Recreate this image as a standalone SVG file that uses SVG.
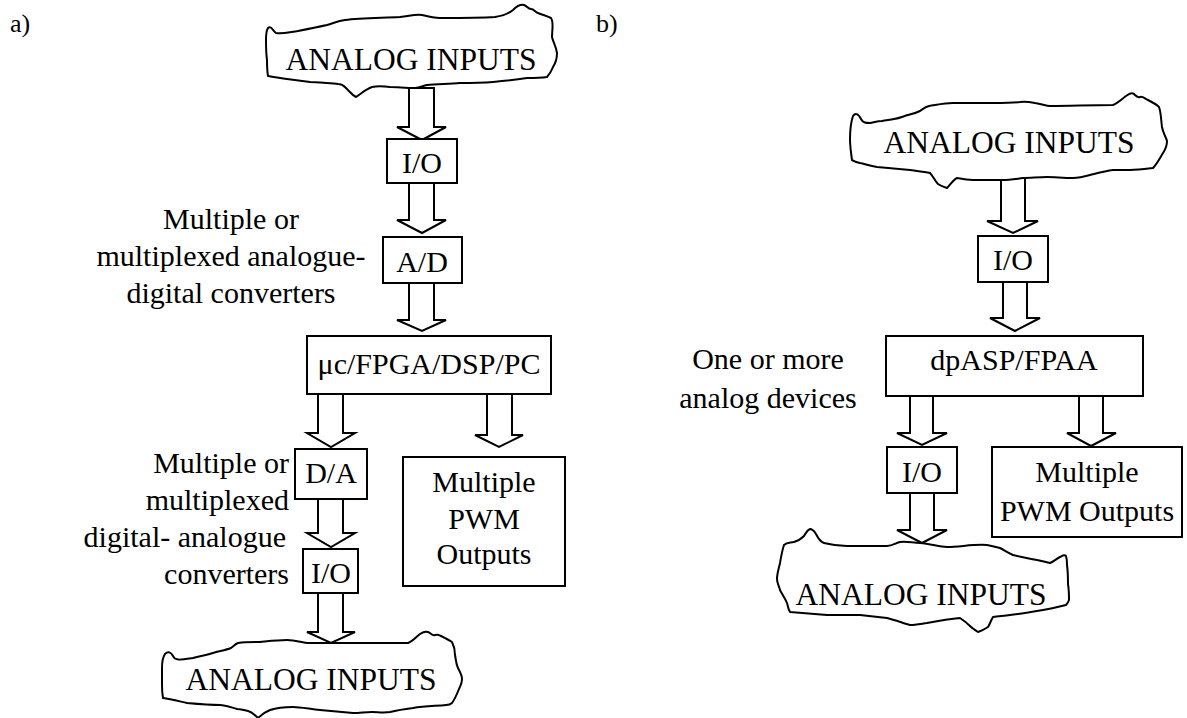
<svg xmlns="http://www.w3.org/2000/svg" width="1187" height="718" viewBox="0 0 1187 718">
<style>
text{font-family:"Liberation Serif","Times New Roman",serif;font-size:30px;fill:#000}
.c{text-anchor:middle}
.e{text-anchor:end}
.big{font-size:31.5px}
.box{fill:#fff;stroke:#000;stroke-width:2}
.wave{fill:#fff;stroke:#000;stroke-width:2;stroke-linejoin:round}
.arr{fill:#fff;stroke:#000;stroke-width:2;stroke-linejoin:miter}
</style>
<rect width="1187" height="718" fill="#fff"/>
<text x="10" y="32" style="font-size:26px">a)</text>
<text x="596" y="32" style="font-size:26px">b)</text>

<g id="connectors">
<polygon class="arr" points="409,88 434,88 434,127 446,127 422,140 397,127 409,127"/>
<polygon class="arr" points="409,183 434,183 434,220 446,220 422,233 397,220 409,220"/>
<polygon class="arr" points="409,283 434,283 434,320 446,320 422,331 397,320 409,320"/>
<polygon class="arr" points="318,394 343,394 343,433 355,433 331,447 307,433 318,433"/>
<polygon class="arr" points="318,499 343,499 343,533 355,533 331,547 307,533 318,533"/>
<polygon class="arr" points="318,593 343,593 343,632 355,632 331,643 307,632 318,632"/>
<polygon class="arr" points="487,394 512,394 512,435 523,435 499,447 475,435 487,435"/>
<polygon class="arr" points="1001,178 1025,178 1025,221 1038,221 1013,233 987,221 1001,221"/>
<polygon class="arr" points="1003,282 1027,282 1027,318 1040,318 1015,331 990,318 1003,318"/>
<polygon class="arr" points="910,396 933,396 933,433 947,433 922,445 897,433 910,433"/>
<polygon class="arr" points="910,493 934,493 934,530 947,530 922,543 897,530 910,530"/>
<polygon class="arr" points="1079,396 1103,396 1103,433 1116,433 1091,446 1067,433 1079,433"/>
</g>

<g id="a-top-inputs">
<path class="wave" d="M268,28 C271,25 273,31 276,33 C283,34 290,32 298,31 C308,29 318,27 327,25 C334,23 338,21 345,20 C360,18 380,18 400,17 C410,16 415,14 422,15 C430,17 435,18 440,18 C460,18 480,18 495,17 C503,16 508,14 513,10 C517,6 520,4 524,5 C527,6 528,9 531,9 C534,9 535,12 538,13 C543,15 547,16 551,18 C554,22 552,30 552,37 C553,42 556,46 557,53 C557,60 555,64 553,67 C551,72 549,75 547,77 C540,78 533,78 527,78 C515,80 505,81 493,82 C480,83 470,83 460,83 C448,84 437,84 427,85 C422,86 420,88 415,88 C405,88 398,87 390,87 C382,86 377,86 372,87 C366,89 362,93 356,97 C352,95 350,92 347,89 C344,86 343,84 338,84 C328,83 320,82 310,82 C302,81 295,80 287,79 C280,78 274,77 268,76 C267,70 267,65 267,60 C266,53 266,47 266,40 C266,35 266,31 268,28 Z"/>
<text class="c big" x="411" y="70">ANALOG INPUTS</text>
</g>

<g id="a-io1"><rect class="box" x="387" y="139" width="70" height="44"/><text class="c" x="422" y="173">I/O</text></g>
<g id="a-ad"><rect class="box" x="383" y="237" width="79" height="46"/><text class="c" x="422" y="272">A/D</text></g>
<g id="a-label1">
<text class="c" x="231" y="229">Multiple or</text>
<text class="c" x="231" y="266">multiplexed analogue-</text>
<text class="c" x="231" y="303">digital converters</text>
</g>
<g id="a-main"><rect class="box" x="307" y="336" width="244" height="58"/><text class="c" x="429" y="374">μc/FPGA/DSP/PC</text></g>
<g id="a-da"><rect class="box" x="295" y="449" width="72" height="50"/><text class="c" x="331" y="483">D/A</text></g>
<g id="a-io2"><rect class="box" x="303" y="549" width="55" height="44"/><text class="c" x="331" y="583">I/O</text></g>
<g id="a-pwm"><rect class="box" x="403" y="457" width="162" height="129"/>
<text class="c" x="484" y="492">Multiple</text><text class="c" x="484" y="529">PWM</text><text class="c" x="484" y="564">Outputs</text></g>
<g id="a-label2">
<text class="e" x="289" y="473">Multiple or</text>
<text class="e" x="289" y="510">multiplexed</text>
<text class="e" x="286" y="547">digital- analogue</text>
<text class="e" x="289" y="584">converters</text>
</g>
<g id="a-bottom-inputs">
<path class="wave" d="M165,654 C168,651 171,652 173,656 C175,661 180,660 193,658 C200,656 207,655 213,653 C220,651 226,650 231,648 C234,646 235,644 238,643 C245,642 252,642 260,642 C270,641 278,640 287,640 C295,640 300,642 307,643 C315,643 323,643 331,643 C340,643 347,643 353,643 C370,643 390,643 408,643 C413,641 416,637 420,634 C423,632 425,631 428,632 C431,633 432,636 435,635 C438,634 439,635 441,636 C445,638 449,640 452,642 C454,646 455,650 455,655 C456,660 456,664 458,668 C460,672 462,675 462,679 C462,683 461,685 459,689 C457,694 455,699 452,703 C450,705 448,705 446,705 C437,706 425,706 413,708 C405,709 398,710 390,712 C383,713 378,712 372,712 C365,712 360,713 353,713 C343,712 332,711 320,710 C310,709 300,707 293,707 C283,707 276,708 270,710 C265,712 261,715 258,718 C255,715 252,712 248,711 C243,710 240,709 237,709 C230,707 225,705 220,705 C210,705 198,704 187,703 C178,701 170,699 163,698 C162,693 162,690 162,685 C162,678 162,673 162,668 C162,662 163,657 165,654 Z"/>
<text class="c big" x="311" y="690">ANALOG INPUTS</text>
</g>

<g id="b-top-inputs">
<path class="wave" d="M853,116 C855,113 858,113 861,119 C863,123 866,123 870,123 C875,122 878,121 882,121 C886,120 890,120 894,119 C900,118 904,116 908,115 C913,114 916,113 920,111 C923,109 925,107 929,106 C936,105 944,103 953,103 C966,103 980,103 993,103 C1003,103 1012,103 1020,102 C1025,101 1030,102 1035,103 C1042,104 1046,106 1050,106 C1070,106 1090,105 1113,105 C1118,103 1122,99 1126,96 C1129,94 1131,92 1134,94 C1136,96 1137,98 1140,97 C1143,96 1145,99 1148,100 C1152,102 1156,104 1159,107 C1161,112 1161,120 1162,127 C1163,133 1166,137 1167,141 C1167,146 1165,150 1163,153 C1160,158 1157,164 1153,168 C1145,169 1138,170 1130,170 C1122,170 1118,170 1113,170 C1105,171 1098,173 1090,175 C1083,177 1078,178 1073,178 C1063,178 1055,177 1047,177 C1038,177 1031,178 1023,178 C1015,179 1010,180 1002,180 C995,180 985,180 973,180 C966,180 962,179 957,178 C953,180 950,185 947,188 C944,187 941,186 938,184 C935,181 933,176 930,173 C925,172 917,171 910,170 C900,169 888,168 877,167 C870,166 865,164 860,163 C856,162 853,161 852,160 C851,153 850,146 850,139 C850,130 851,122 853,116 Z"/>
<text class="c big" x="1009" y="153">ANALOG INPUTS</text>
</g>
<g id="b-io1"><rect class="box" x="978" y="236" width="70" height="46"/><text class="c" x="1013" y="270">I/O</text></g>
<g id="b-main"><rect class="box" x="886" y="336" width="257" height="60"/><text class="c" x="1014" y="370">dpASP/FPAA</text></g>
<g id="b-label">
<text class="c" x="768" y="369">One or more</text>
<text class="c" x="768" y="408">analog devices</text>
</g>
<g id="b-io2"><rect class="box" x="887" y="447" width="70" height="46"/><text class="c" x="922" y="482">I/O</text></g>
<g id="b-pwm"><rect class="box" x="992" y="447" width="190" height="90"/>
<text class="c" x="1087" y="482">Multiple</text><text class="c" x="1087" y="521">PWM Outputs</text></g>
<g id="b-bottom-inputs">
<path class="wave" d="M784,545 C787,542 790,543 794,542 C798,541 801,539 804,536 C806,533 807,530 810,529 C813,529 814,531 816,534 C818,538 820,542 824,543 C832,545 840,546 847,546 C860,546 874,546 887,546 C892,546 896,543 900,542 C907,541 913,543 920,543 C930,544 938,546 947,547 C960,547 973,544 987,545 C992,546 996,547 1000,548 C1004,550 1008,553 1013,555 C1020,557 1028,558 1037,560 C1042,561 1046,562 1050,563 C1053,562 1056,559 1060,557 C1062,556 1064,554 1066,556 C1067,559 1067,561 1067,565 C1068,572 1068,578 1068,584 C1069,590 1069,595 1069,600 C1068,603 1067,604 1066,605 C1058,607 1050,609 1043,610 C1032,612 1020,614 1010,615 C1003,616 998,616 993,617 C991,620 990,624 988,627 C985,629 981,631 978,632 C975,630 972,628 970,626 C966,622 963,620 960,618 C950,619 938,621 927,623 C920,624 915,625 910,625 C903,623 895,620 887,618 C878,617 869,616 860,615 C849,615 838,615 827,615 C815,614 802,613 790,612 C788,609 788,606 787,603 C785,598 782,594 780,590 C779,586 777,583 777,579 C777,573 779,568 780,563 C781,557 782,551 784,545 Z"/>
<text class="c big" x="921" y="605">ANALOG INPUTS</text>
</g>
</svg>
